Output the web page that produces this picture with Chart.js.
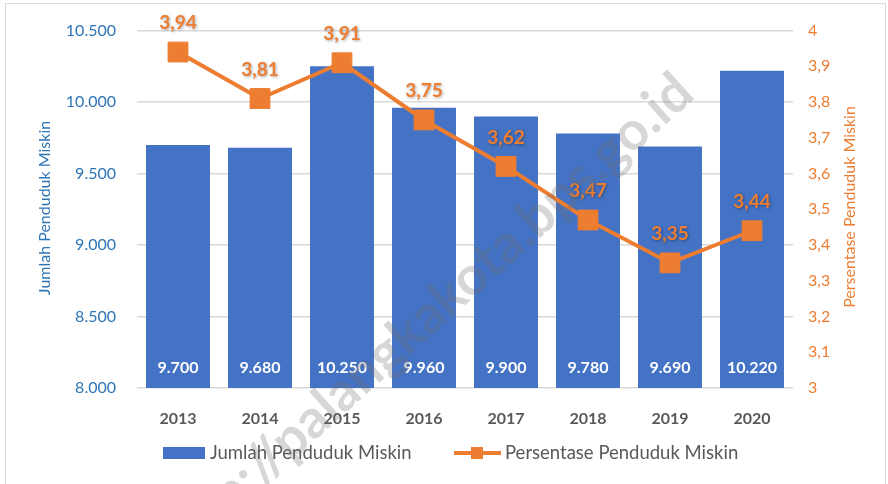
<!DOCTYPE html>
<html>
<head>
<meta charset="utf-8">
<script src="https://cdn.jsdelivr.net/npm/chart.js@4/dist/chart.umd.min.js"></script>
<style>
  html, body { margin: 0; padding: 0; background: #fff; }
  canvas { display: block; }
</style>
</head>
<body>
<canvas id="chart1" width="888" height="484"></canvas>
<script>
let years = ['2013', '2014', '2015', '2016', '2017', '2018', '2019', '2020'];
let jumlah = [9700, 9680, 10250, 9960, 9900, 9780, 9690, 10220];
let persen = [3.94, 3.81, 3.91, 3.75, 3.62, 3.47, 3.35, 3.44];

let blue = '#4472C4';
let orange = '#ED7D31';
let grey = '#595959';
let FONT = 'Lato, "Open Sans", sans-serif';

function ribuan(v) {
  return String(Math.round(v)).replace(/\B(?=(\d{3})+(?!\d))/g, '.');
}
// axis ticks: one decimal, comma
function koma(v) {
  let r = Math.round(v * 10) / 10;
  return Number.isInteger(r) ? String(r) : r.toFixed(1).replace('.', ',');
}

// labels, legend, axis titles, watermark
let extras = {
  id: 'extras',
  afterDatasetsDraw(chart) {
    let c = chart.ctx;
    let barMeta = chart.getDatasetMeta(0);
    let lineMeta = chart.getDatasetMeta(1);
    c.save();
    c.textAlign = 'center';
    c.textBaseline = 'middle';
    c.font = 'bold 16px ' + FONT;
    c.fillStyle = '#fff';
    barMeta.data.forEach((bar, i) => {
      c.fillText(ribuan(jumlah[i]), bar.x, chart.chartArea.bottom - 20);
    });
    c.font = 'bold 19px ' + FONT;
    c.fillStyle = orange;
    c.shadowColor = 'rgba(0,0,0,0.35)';
    c.shadowBlur = 3;
    c.shadowOffsetX = 1;
    c.shadowOffsetY = 1;
    lineMeta.data.forEach((pt, i) => {
      c.fillText(persen[i].toFixed(2).replace('.', ','), pt.x, pt.y - 29);
    });
    c.restore();
  },
  afterDraw(chart) {
    let c = chart.ctx;
    c.save();
    // axis titles
    c.font = '16px ' + FONT;
    c.textAlign = 'center';
    c.textBaseline = 'middle';
    c.fillStyle = '#2E75B6';
    c.translate(45, 208);
    c.rotate(-Math.PI / 2);
    c.fillText('Jumlah Penduduk Miskin', 0, 0);
    c.restore();
    c.save();
    c.font = '16px ' + FONT;
    c.textAlign = 'center';
    c.textBaseline = 'middle';
    c.fillStyle = orange;
    c.translate(850, 207);
    c.rotate(-Math.PI / 2);
    c.fillText('Persentase Penduduk Miskin', 0, 0);
    c.restore();

    // legend
    c.save();
    let ly = 453;
    c.fillStyle = blue;
    c.fillRect(163, ly - 6, 42, 12);
    c.strokeStyle = orange;
    c.lineWidth = 4;
    c.beginPath();
    c.moveTo(454, ly);
    c.lineTo(501, ly);
    c.stroke();
    c.fillStyle = orange;
    c.fillRect(471, ly - 6, 12, 12);
    c.font = '18.5px ' + FONT;
    c.fillStyle = grey;
    c.textBaseline = 'middle';
    c.textAlign = 'left';
    c.fillText('Jumlah Penduduk Miskin', 210, ly);
    c.fillText('Persentase Penduduk Miskin', 505, ly);
    c.restore();

    // watermark
    c.save();
    c.translate(703, 104);
    c.rotate(-42 * Math.PI / 180);
    c.font = 'bold 54px ' + FONT;
    c.textAlign = 'right';
    c.textBaseline = 'bottom';
    c.fillStyle = 'rgba(110,110,110,0.28)';
    c.fillText('http://palangkakota.bps.go.id', 0, 0);
    c.restore();

    // frame
    c.save();
    c.strokeStyle = '#D9D9D9';
    c.lineWidth = 1;
    c.strokeRect(5.5, 3.5, 880, 490);
    c.restore();
  }
};

let chart1 = new Chart(document.getElementById('chart1'), {
  type: 'bar',
  data: {
    labels: years,
    datasets: [{
      label: 'Jumlah Penduduk Miskin',
      data: jumlah,
      backgroundColor: blue,
      categoryPercentage: 1,
      barPercentage: 0.78,
      yAxisID: 'y',
      order: 2
    }, {
      type: 'line',
      label: 'Persentase Penduduk Miskin',
      data: persen,
      borderColor: orange,
      backgroundColor: orange,
      borderWidth: 4,
      pointStyle: 'rect',
      pointRadius: 14,
      pointBorderWidth: 1,
      tension: 0,
      yAxisID: 'y1',
      order: 1
    }]
  },
  options: {
    responsive: false,
    animation: false,
    devicePixelRatio: 1,
    layout: { padding: { left: 0, right: 0, top: 28, bottom: 0 } },
    plugins: { legend: { display: false }, tooltip: { enabled: false } },
    scales: {
      x: {
        grid: { display: false },
        border: { display: false },
        ticks: { color: grey, font: { family: FONT, size: 16, weight: 'bold' }, padding: 13 },
        afterFit(s) { s.height = 96; }
      },
      y: {
        position: 'left',
        min: 8000,
        max: 10500,
        ticks: { stepSize: 500, color: '#2E75B6', font: { family: FONT, size: 16 }, padding: 21, callback: v => ribuan(v) },
        grid: { color: '#D9D9D9', drawTicks: false, lineWidth: 1.5 },
        border: { display: false },
        afterFit(s) { s.width = 137; }
      },
      y1: {
        position: 'right',
        min: 3,
        max: 4,
        ticks: { stepSize: 0.1, color: orange, font: { family: FONT, size: 16 }, padding: 15, callback: v => koma(v) },
        grid: { drawOnChartArea: false, drawTicks: false },
        border: { display: false },
        afterFit(s) { s.width = 95; }
      }
    }
  },
  plugins: [extras]
});
</script>
</body>
</html>
